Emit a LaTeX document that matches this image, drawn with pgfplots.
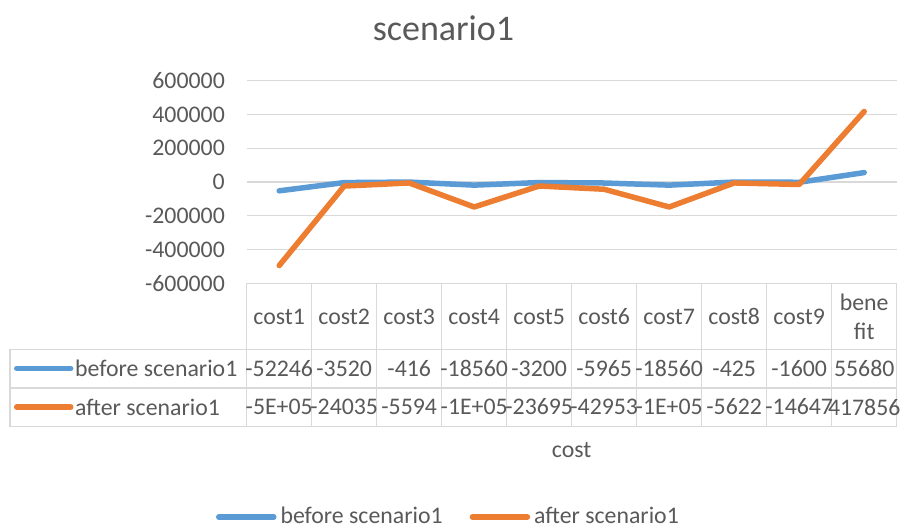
\documentclass[border=0pt]{standalone}
\usepackage{fontspec}
\setmainfont{Carlito}
\usepackage{pgfplots}
\pgfplotsset{compat=1.18}
\definecolor{cblue}{HTML}{5B9BD5}
\definecolor{corange}{HTML}{ED7D31}
\definecolor{ctext}{HTML}{595959}
\definecolor{cgrid}{HTML}{D9D9D9}
\newcommand{\lf}{\fontsize{23.8}{28.7}\selectfont}
\begin{document}
\begin{tikzpicture}[x=1pt,y=1pt]
\lf
\useasboundingbox (0pt,0pt) rectangle (901pt,528pt);
\begin{axis}[
  at={(246.7pt,244.7pt)}, anchor=south west,
  width=650pt, height=202.6pt, scale only axis,
  xmin=-0.5, xmax=9.5, ymin=-600000, ymax=600000,
  ytick={-600000,-400000,-200000,0,200000,400000,600000},
  yticklabels={-600000,-400000,-200000,0,200000,400000,600000},
  scaled y ticks=false,
  xtick=\empty,
  axis line style={draw=none},
  major tick length=0pt,
  ymajorgrids, grid style={cgrid, line width=1.3pt},
  yticklabel style={font=\lf, text=ctext, inner sep=0pt, xshift=-21.7pt},
  clip=false,
  legend columns=2,
  legend image code/.code={\draw[#1] (0pt,0pt) -- (55pt,0pt);},
  legend style={draw=none, fill=none, inner sep=0pt, outer sep=0pt,
    at={(-0.0472,-1.1535)}, anchor=west,
    nodes={inner sep=0pt, text=ctext, font=\lf},
    /tikz/every odd column/.append style={column sep=4pt},
    /tikz/every even column/.append style={column sep=27pt}},
]
\addplot[cblue, line width=5.5pt, line join=round, line cap=round]
  coordinates {(0,-52246)(1,-3520)(2,-416)(3,-18560)(4,-3200)(5,-5965)(6,-18560)(7,-425)(8,-1600)(9,55680)};
\addlegendentry{before scenario1}
\addplot[corange, line width=5.5pt, line join=round, line cap=round]
  coordinates {(0,-495000)(1,-24035)(2,-5594)(3,-148000)(4,-23695)(5,-42953)(6,-148000)(7,-5622)(8,-14647)(9,417856)};
\addlegendentry{after scenario1}
\end{axis}
% data table grid
\begin{scope}[cgrid, line width=1.3pt]
  \draw (10,178.7) -- (896.7,178.7);
  \draw (10,140) -- (896.7,140);
  \draw (10,101.3) -- (896.7,101.3);
  \draw (10,178.7) -- (10,101.3);
  \foreach \k in {0,...,10} {\draw ({246.7+65*\k},244.7) -- ({246.7+65*\k},101.3);}
\end{scope}
% header
\foreach \t [count=\i from 0] in {cost1,cost2,cost3,cost4,cost5,cost6,cost7,cost8,cost9} {
  \node[text=ctext, inner sep=0pt, font=\lf] at ({279.2+65*\i},211.5) {\t};
}
\node[text=ctext, inner sep=0pt, font=\lf, align=center] at (864.2,211) {bene\\fit};
% row 1
\draw[cblue, line width=5.5pt, line cap=round] (16.7,159.5) -- (70.7,159.5);
\node[text=ctext, inner sep=0pt, anchor=west, font=\lf] at (75,159.5) {before scenario1};
\foreach \t [count=\i from 0] in {-52246,-3520,-416,-18560,-3200,-5965,-18560,-425,-1600,55680} {
  \node[text=ctext, inner sep=0pt, font=\lf] at ({279.2+65*\i},159.5) {\t};
}
% row 2
\draw[corange, line width=5.5pt, line cap=round] (16.7,121) -- (70.7,121);
\node[text=ctext, inner sep=0pt, anchor=west, font=\lf] at (75,121) {after scenario1};
\foreach \t [count=\i from 0] in {-5E+05,-24035,-5594,-1E+05,-23695,-42953,-1E+05,-5622,-14647,417856} {
  \node[text=ctext, inner sep=0pt, font=\lf] at ({279.2+65*\i},121) {\t};
}
% axis title
\node[text=ctext, inner sep=0pt, font=\lf] at (571.7,78) {cost};
% chart title
\node[text=ctext, inner sep=0pt, font=\fontsize{36}{43}\selectfont] at (443.5,500) {scenario1};
\end{tikzpicture}
\end{document}
